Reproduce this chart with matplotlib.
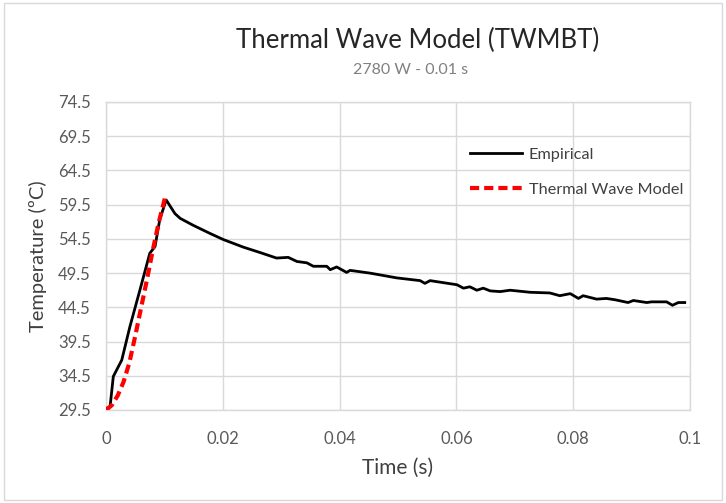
import matplotlib
matplotlib.use("Agg")
import matplotlib.pyplot as plt
from matplotlib.patches import Rectangle

plt.rcParams['font.family'] = ['Lato', 'DejaVu Sans']

# Empirical data
emp_t = [0.0000, 0.0007, 0.00125, 0.0027, 0.0041, 0.0058, 0.0075, 0.0084, 0.0092, 0.0103,
         0.0118, 0.0127, 0.0149, 0.0178, 0.0201, 0.0235, 0.0264, 0.0292, 0.0312, 0.0327,
         0.0344, 0.0355, 0.0378, 0.0384, 0.0395, 0.0412, 0.0418, 0.0452, 0.0498, 0.0538,
         0.0546, 0.0555, 0.0601, 0.0612, 0.0623, 0.0635, 0.0646, 0.0658, 0.0675, 0.0692,
         0.0726, 0.0760, 0.0777, 0.0795, 0.0809, 0.0817, 0.0840, 0.0857, 0.0872, 0.0894,
         0.0903, 0.0926, 0.0934, 0.0960, 0.0970, 0.0980, 0.0991]
emp_T = [29.7, 30.0, 34.4, 36.8, 41.7, 47.0, 52.4, 53.4, 57.3, 60.2,
         58.2, 57.5, 56.5, 55.3, 54.4, 53.3, 52.5, 51.7, 51.8, 51.2,
         51.0, 50.5, 50.5, 50.0, 50.4, 49.6, 49.9, 49.5, 48.8, 48.4,
         48.0, 48.4, 47.8, 47.3, 47.5, 47.0, 47.3, 46.9, 46.8, 47.0,
         46.7, 46.6, 46.2, 46.5, 45.8, 46.2, 45.7, 45.8, 45.6, 45.2,
         45.5, 45.2, 45.3, 45.3, 44.8, 45.2, 45.2]

# Thermal wave model
model_t = [0.0, 0.001, 0.002, 0.003, 0.004, 0.005, 0.006, 0.007, 0.008, 0.009, 0.0101]
model_T = [29.5, 30.2, 31.6, 33.6, 36.4, 40.3, 44.4, 48.5, 52.8, 56.8, 60.5]

x_ticks = [0, 0.02, 0.04, 0.06, 0.08, 0.1]
x_labels = ['0', '0.02', '0.04', '0.06', '0.08', '0.1']
y_ticks = [29.5, 34.5, 39.5, 44.5, 49.5, 54.5, 59.5, 64.5, 69.5, 74.5]

fig = plt.figure(figsize=(7.26, 5.03), dpi=100)
ax = fig.add_axes([106/726, 1-410/503, 584/726, 308/503])

grid_c = '#d9d9d9'
ax.plot(emp_t, emp_T, color='black', lw=2.0, label='Empirical', zorder=3)
ax.plot(model_t, model_T, color='#ff0000', lw=3.0, ls=(0, (2.2, 1.2)), label='Thermal Wave Model', zorder=4)

ax.set_xlim(0, 0.1)
ax.set_ylim(29.5, 74.5)
ax.set_xticks(x_ticks)
ax.set_xticklabels(x_labels)
ax.set_yticks(y_ticks)
ax.set_yticklabels([f'{v:.1f}' for v in y_ticks])
ax.grid(True, color=grid_c, lw=1.0)
ax.set_axisbelow(True)
for s in ax.spines.values():
    s.set_color(grid_c)
    s.set_linewidth(1.0)
ax.tick_params(length=0, labelsize=12, colors='#595959', pad=11)
ax.tick_params(axis='x', pad=15)

ax.set_xlabel('Time (s)', fontsize=15, color='#404040', labelpad=8)
ax.set_ylabel('Temperature (ºC)', fontsize=14.5, color='#404040', labelpad=8)

fig.text(418/726, 1-40/503, 'Thermal Wave Model (TWMBT)', ha='center', va='center', fontsize=18.5, color='#262626')
fig.text(411/726, 1-70/503, '2780 W - 0.01 s', ha='center', va='center', fontsize=11.5, color='#808080')

leg = ax.legend(loc='upper left', bbox_to_anchor=(349/584, 1-31/308), frameon=False,
                fontsize=11.7, handlelength=3.2, labelspacing=1.25, handletextpad=0.45)
for t in leg.get_texts():
    t.set_color('#404040')

fig.patches.append(Rectangle((4/726, 3/503), 718/726, 497/503, transform=fig.transFigure,
                             fill=False, edgecolor='#d9d9d9', lw=1.0))

fig.savefig('out.png', dpi=100)
